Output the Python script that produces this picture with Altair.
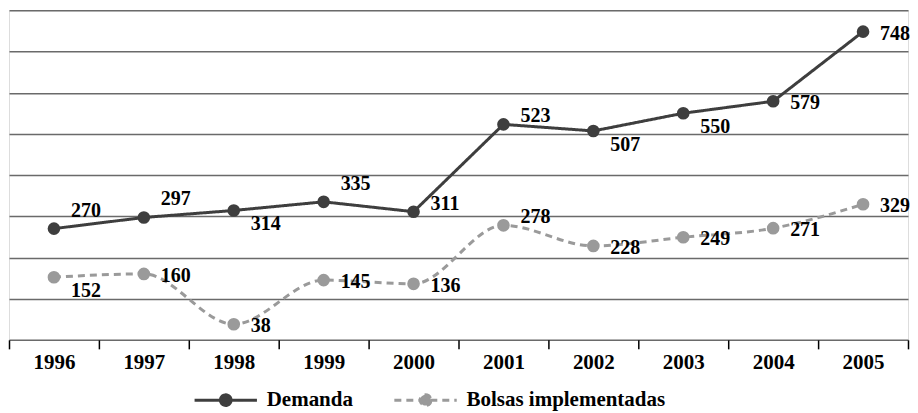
import altair as alt
import pandas as pd

years = ["1996", "1997", "1998", "1999", "2000", "2001", "2002", "2003", "2004", "2005"]
demanda = [270, 297, 314, 335, 311, 523, 507, 550, 579, 748]
bolsas = [152, 160, 38, 145, 136, 278, 228, 249, 271, 329]
series_names = ["Demanda", "Bolsas implementadas"]
# label placement relative to each point
demanda_pos = ["up", "up", "down", "up", "up2", "up2", "down", "down", "side", "side"]
bolsas_pos = ["down", "side", "side", "side", "side", "up2", "side", "side", "side", "side"]

rows = []
for y, v, p in zip(years, demanda, demanda_pos):
    rows.append({"year": y, "value": v, "series": series_names[0], "pos": p})
for y, v, p in zip(years, bolsas, bolsas_pos):
    rows.append({"year": y, "value": v, "series": series_names[1], "pos": p})
df = pd.DataFrame(rows)

FONT = "Liberation Serif"
colors = ["#3e3e3e", "#9a9a9a"]

x_enc = alt.X(
    "year:N",
    bandPosition=0.5,
    scale=alt.Scale(type="band", paddingInner=0, paddingOuter=0),
    axis=alt.Axis(
        title=None, labelAngle=0, tickBand="extent", domain=False, grid=False,
        tickColor="#000000", tickWidth=1.5, tickSize=9,
        labelFont=FONT, labelFontSize=21, labelFontWeight="bold",
        labelColor="#000000", labelPadding=3,
    ),
)
y_enc = alt.Y(
    "value:Q",
    scale=alt.Scale(domain=[0, 800], nice=False, zero=True),
    axis=alt.Axis(
        title=None, labels=False, ticks=False, domain=False, grid=True,
        values=list(range(0, 900, 100)), gridColor="#6a6a6a", gridWidth=1.5,
    ),
)
color_scale = alt.Scale(domain=series_names, range=colors)
dash_scale = alt.Scale(domain=series_names, range=[[1, 0], [7, 5]])

base = alt.Chart(df).encode(x=x_enc, y=y_enc)

legend = alt.Legend(
    title=None, orient="none", direction="horizontal",
    legendX=184, legendY=357,
    symbolType="M-1,0L1,0M0.17,0A0.17,0.17,0,1,1,-0.17,0A0.17,0.17,0,1,1,0.17,0Z",
    symbolSize=3900, symbolStrokeWidth=3,
    labelFont=FONT, labelFontSize=21, labelFontWeight="bold", labelColor="#000000",
    labelLimit=500,
    columnPadding=34, labelOffset=8, padding=0,
)

line_d = base.transform_filter(alt.datum.series == series_names[0]).mark_line(
    strokeWidth=3
).encode(
    stroke=alt.Stroke("series:N", scale=color_scale, legend=legend),
    strokeDash=alt.StrokeDash("series:N", scale=dash_scale, legend=legend),
)
line_b = base.transform_filter(alt.datum.series == series_names[1]).mark_line(
    strokeWidth=3, interpolate="monotone"
).encode(
    stroke=alt.Stroke("series:N", scale=color_scale, legend=legend),
    strokeDash=alt.StrokeDash("series:N", scale=dash_scale, legend=legend),
)
points = base.mark_circle(size=160, opacity=1).encode(
    fill=alt.Fill("series:N", scale=color_scale, legend=legend)
)

def labels(pos, dy):
    return base.transform_filter(alt.datum.pos == pos).mark_text(
        align="left", baseline="middle", dx=17, dy=dy,
        font=FONT, fontSize=20, fontWeight="bold", color="#000000",
    ).encode(text="value:Q")

chart = alt.layer(
    line_d, line_b, points,
    labels("up", -18), labels("down", 14), labels("side", 2), labels("up2", -8),
).properties(
    width=900, height=330,
    padding={"left": 0, "top": 2, "right": 0, "bottom": 0},
).configure_view(
    fill="#e6e6e6", stroke=None
).configure(background="#ffffff")

chart.save("out.html", embed_options={"renderer": "svg", "actions": False})
